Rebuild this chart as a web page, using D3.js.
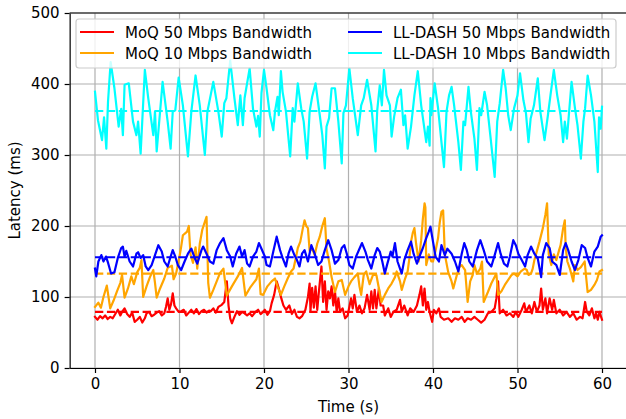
<!DOCTYPE html>
<html>
<head>
<meta charset="utf-8">
<script src="https://cdn.jsdelivr.net/npm/d3@7"></script>
<style>
  body { margin: 0; background: #fff; }
  svg text { font-family: "DejaVu Sans", sans-serif; }
</style>
</head>
<body>
<div id="chart"></div>
<script>
// values, [time (s), latency (ms)]
var moq50 = [[0,72],[0.3,68],[0.6,73],[0.9,70],[1.2,74],[1.5,69],[1.8,72],[2.1,70],[2.4,76],[2.7,82],[3.0,74],[3.2,79],[3.5,84],[3.8,76],[4.1,72],[4.4,78],[4.7,65],[5.0,68],[5.3,72],[5.6,64],[5.9,70],[6.1,77],[6.4,79],[6.7,73],[7.0,75],[7.3,78],[7.6,80],[7.9,74],[8.2,77],[8.4,86],[8.6,98],[8.8,82],[9.0,90],[9.2,105],[9.4,88],[9.6,84],[9.9,79],[10.2,80],[10.5,82],[10.8,74],[11.1,78],[11.4,82],[11.7,77],[12.0,83],[12.3,76],[12.6,80],[12.9,82],[13.2,78],[13.5,81],[13.7,80],[14.0,84],[14.3,78],[14.6,86],[15.0,89],[15.3,93],[15.6,122],[15.8,88],[16.0,70],[16.2,63],[16.5,72],[16.8,80],[17.1,75],[17.4,79],[17.7,77],[18.0,74],[18.3,77],[18.6,73],[19.0,79],[19.3,82],[19.6,76],[19.9,79],[20.1,82],[20.4,75],[20.7,80],[20.9,91],[21.2,103],[21.5,122],[21.8,110],[22.05,98],[22.3,88],[22.6,82],[23.0,88],[23.3,76],[23.6,82],[23.9,72],[24.2,70],[24.5,73],[24.9,82],[25.2,100],[25.4,119],[25.5,80],[25.7,113],[25.9,85],[26.1,115],[26.3,82],[26.5,108],[26.8,143],[27.0,93],[27.2,122],[27.4,82],[27.6,108],[27.8,98],[28.0,115],[28.2,88],[28.4,108],[28.6,79],[28.8,98],[29.0,79],[29.3,84],[29.6,70],[29.9,74],[30.3,98],[30.5,84],[30.7,103],[31.0,79],[31.3,88],[31.6,77],[31.9,84],[32.2,103],[32.5,82],[32.7,108],[32.9,84],[33.1,110],[33.3,84],[33.6,112],[33.8,88],[34.1,88],[34.3,74],[34.7,84],[35.0,72],[35.3,79],[35.7,82],[36.1,96],[36.3,79],[36.6,88],[37.0,74],[37.3,84],[37.7,79],[38.1,88],[38.4,103],[38.6,115],[38.8,88],[39.0,112],[39.2,82],[39.4,93],[39.6,79],[39.9,65],[40.1,82],[40.4,77],[40.7,84],[40.9,72],[41.3,68],[41.8,70],[42.2,65],[42.6,70],[43.0,68],[43.4,72],[43.75,65],[44.1,70],[44.5,68],[44.9,72],[45.3,68],[45.7,64],[46.1,68],[46.5,77],[46.9,79],[47.3,84],[47.5,98],[47.7,122],[47.9,77],[48.3,82],[48.7,74],[49.1,77],[49.5,72],[49.8,79],[50.1,72],[50.5,82],[50.8,91],[51.0,79],[51.4,88],[51.7,77],[52.0,93],[52.3,79],[52.6,88],[52.8,112],[53.0,82],[53.3,98],[53.5,77],[53.8,98],[54.1,82],[54.3,96],[54.6,77],[55.0,82],[55.4,74],[55.8,79],[56.2,72],[56.6,77],[57.0,68],[57.4,72],[57.7,70],[58.0,93],[58.2,79],[58.5,74],[58.8,84],[59.1,70],[59.3,77],[59.5,68],[59.7,79],[60,68]];

var moq10 = [[0,86],[0.4,92],[0.7,85],[1.0,100],[1.4,116],[1.6,100],[1.8,84],[2.2,95],[2.6,108],[3.0,120],[3.2,131],[3.5,99],[3.9,112],[4.3,129],[4.6,118],[5.0,135],[5.3,141],[5.5,152],[5.7,100],[6.1,115],[6.5,128],[6.9,138],[7.1,120],[7.3,99],[7.7,112],[8.2,126],[8.6,141],[9.1,144],[9.3,125],[9.6,133],[10.0,157],[10.2,171],[10.4,187],[10.7,190],[10.9,192],[11.1,200],[11.3,160],[11.6,148],[11.9,170],[12.1,140],[12.4,175],[12.7,195],[13.0,206],[13.2,213],[13.4,120],[13.6,99],[14.0,110],[14.4,122],[14.8,134],[15.2,140],[15.6,102],[16.2,115],[16.9,129],[17.4,141],[17.8,102],[18.4,114],[19.1,125],[19.4,140],[19.6,104],[19.9,103],[20.4,115],[20.9,122],[21.3,126],[21.6,115],[22.0,103],[22.4,115],[22.8,126],[23.2,136],[23.5,140],[23.8,157],[24.0,169],[24.3,178],[24.6,197],[24.8,208],[25.0,200],[25.2,197],[25.4,165],[25.7,168],[26.0,159],[26.3,175],[26.6,185],[26.9,200],[27.2,211],[27.4,168],[27.7,150],[28.0,128],[28.4,107],[28.8,122],[29.2,124],[29.6,103],[30.0,115],[30.3,122],[30.7,128],[31.1,133],[31.3,115],[31.5,103],[31.8,131],[32.1,136],[32.5,118],[32.9,131],[33.3,131],[33.6,112],[33.9,93],[34.3,103],[34.7,112],[35.1,119],[35.5,128],[35.7,136],[36.1,122],[36.3,110],[36.7,126],[37.0,136],[37.2,154],[37.4,178],[37.6,190],[37.8,197],[38.0,175],[38.3,150],[38.6,180],[38.8,210],[39.0,232],[39.1,226],[39.2,145],[39.5,160],[39.8,150],[40.0,150],[40.3,165],[40.6,183],[40.8,205],[41.0,220],[41.2,222],[41.4,160],[41.8,135],[42.2,122],[42.4,112],[42.8,130],[43.1,142],[43.4,145],[43.8,138],[44.1,93],[44.4,122],[44.7,131],[44.9,145],[45.2,133],[45.6,140],[45.8,150],[46.0,93],[46.5,107],[46.9,119],[47.2,126],[47.5,133],[47.7,103],[48.1,108],[48.5,117],[48.9,124],[49.3,131],[49.6,133],[50.0,129],[50.4,136],[50.85,140],[51.1,138],[51.3,131],[51.6,133],[51.8,140],[52.0,152],[52.3,165],[52.6,178],[53.0,197],[53.3,216],[53.5,232],[53.7,160],[54.0,145],[54.3,160],[54.6,152],[54.9,165],[55.1,173],[55.4,197],[55.6,208],[55.7,170],[55.9,150],[56.2,140],[56.4,131],[56.6,122],[56.8,145],[57.1,138],[57.5,142],[57.95,150],[58.1,131],[58.3,107],[58.7,110],[59.1,117],[59.4,124],[59.7,136],[60,138]];

var dash50 = [[0,140],[0.15,129],[0.4,150],[0.75,159],[1.0,150],[1.3,157],[1.55,148],[1.9,133],[2.3,135],[2.7,155],[3.1,169],[3.3,171],[3.5,157],[3.7,165],[4.1,150],[4.5,143],[4.9,161],[5.1,163],[5.4,155],[5.7,159],[6.0,143],[6.3,138],[6.7,145],[7.1,159],[7.5,173],[7.9,164],[8.2,150],[8.6,143],[8.9,155],[9.2,166],[9.5,157],[9.8,145],[10.2,138],[10.6,150],[11.0,161],[11.4,168],[11.8,155],[12.1,147],[12.6,166],[12.8,171],[13.2,161],[13.6,150],[14.0,147],[14.4,166],[14.8,176],[15.2,183],[15.6,166],[16.0,157],[16.3,143],[16.7,161],[17.1,171],[17.4,157],[17.7,166],[18.0,147],[18.3,143],[18.7,157],[19.1,164],[19.4,176],[19.7,168],[20.1,157],[20.3,145],[20.7,143],[21.1,164],[21.5,185],[21.9,166],[22.2,155],[22.6,143],[22.9,161],[23.2,171],[23.6,159],[23.9,152],[24.2,143],[24.5,161],[24.8,166],[25.2,150],[25.6,173],[26.0,161],[26.4,145],[26.8,150],[27.2,166],[27.6,180],[28.0,166],[28.4,147],[28.8,152],[29.2,169],[29.5,173],[29.8,161],[30.1,145],[30.5,140],[30.9,157],[31.3,168],[31.6,176],[32.0,164],[32.3,152],[32.7,140],[33.1,159],[33.4,169],[33.7,164],[34.0,150],[34.3,133],[34.6,147],[35.0,164],[35.2,157],[35.5,176],[35.8,150],[36.3,133],[36.6,152],[37.0,166],[37.4,178],[37.7,161],[38.1,147],[38.4,157],[38.8,169],[39.2,183],[39.5,192],[39.7,199],[40.0,178],[40.3,157],[40.7,150],[41.0,173],[41.4,159],[41.7,168],[42.2,161],[42.6,150],[43.0,136],[43.4,161],[43.7,176],[44.0,166],[44.3,150],[44.7,143],[45.2,166],[45.6,180],[46.0,166],[46.4,150],[46.9,143],[47.3,159],[47.7,176],[48.0,161],[48.4,147],[48.8,143],[49.1,157],[49.5,180],[49.8,173],[50.1,161],[50.5,152],[50.9,143],[51.2,159],[51.6,171],[52.0,161],[52.4,154],[52.8,128],[53.0,159],[53.4,176],[53.8,169],[54.1,150],[54.6,145],[55.0,131],[55.4,166],[55.7,176],[56.0,166],[56.4,150],[56.8,138],[57.2,152],[57.6,173],[58.0,169],[58.3,155],[58.7,143],[59.1,164],[59.5,171],[59.85,185],[60,187]];

var dash10 = [[0,389],[0.35,349],[0.83,321],[1.07,353],[1.34,309],[1.54,375],[1.85,431],[2.3,394],[2.8,340],[3.1,365],[3.3,328],[3.5,399],[4.0,401],[4.5,347],[4.9,328],[5.1,347],[5.4,302],[5.9,420],[6.3,380],[6.9,328],[7.1,361],[7.3,305],[8.0,403],[8.6,347],[8.95,309],[9.2,361],[9.5,363],[9.9,409],[10.4,370],[11.0,298],[11.4,361],[11.9,412],[12.4,370],[13.0,300],[13.3,361],[14.0,403],[14.6,361],[15.0,326],[15.3,373],[15.55,380],[16.0,433],[16.5,380],[16.9,342],[17.2,384],[17.5,342],[17.7,380],[18.3,422],[18.7,365],[19.1,340],[19.3,355],[19.5,326],[19.7,387],[20.0,420],[20.3,394],[20.7,356],[21.1,335],[21.3,361],[21.6,382],[21.75,356],[22.0,418],[22.2,389],[22.6,361],[23.1,298],[23.4,366],[23.6,347],[24.0,401],[24.4,366],[24.7,347],[25.1,295],[25.4,361],[25.7,382],[26.1,401],[26.6,356],[26.9,328],[27.2,281],[27.4,340],[27.7,352],[28.0,394],[28.4,394],[28.8,347],[29.2,288],[29.4,359],[29.7,370],[30.1,422],[30.5,380],[31.1,328],[31.5,370],[31.8,380],[32.2,406],[32.7,370],[33.2,305],[33.4,363],[33.7,398],[33.95,370],[34.2,420],[34.5,384],[34.9,370],[35.1,326],[35.4,354],[35.8,380],[36.2,392],[36.5,342],[36.7,356],[37.0,309],[37.4,340],[37.8,384],[38.2,418],[38.6,370],[39.2,318],[39.4,340],[39.6,313],[39.7,380],[39.8,356],[40.2,401],[40.6,366],[41.0,318],[41.3,283],[41.6,361],[41.9,384],[42.2,396],[42.5,370],[43.0,318],[43.3,279],[43.6,347],[43.8,342],[44.2,396],[44.5,359],[44.9,323],[45.2,279],[45.5,366],[45.7,356],[46.1,389],[46.4,370],[46.8,326],[47.3,269],[47.6,347],[47.9,373],[48.3,420],[48.6,394],[48.9,356],[49.2,335],[49.6,366],[50.0,384],[50.3,415],[50.7,377],[51.0,359],[51.3,318],[51.55,351],[51.95,370],[52.4,408],[52.7,361],[53.2,321],[53.6,356],[53.9,384],[54.3,420],[54.7,384],[55.1,356],[55.4,318],[55.6,347],[55.85,323],[56.4,403],[56.8,366],[57.1,342],[57.5,295],[57.8,347],[58.0,366],[58.3,412],[58.7,384],[59.1,347],[59.5,276],[59.65,353],[59.85,337],[60,368]];

// mean latency of each run (dashed lines)
var means = { moq50: 79, moq10: 133, dash50: 156, dash10: 362 };

var xTicks = [0, 10, 20, 30, 40, 50, 60];
var yTicks = [0, 100, 200, 300, 400, 500];

var series = [
  { key: "moq50", label: "MoQ 50 Mbps Bandwidth", color: "#ff0000", data: moq50 },
  { key: "moq10", label: "MoQ 10 Mbps Bandwidth", color: "#ffa500", data: moq10 },
  { key: "dash50", label: "LL-DASH 50 Mbps Bandwidth", color: "#0000ff", data: dash50 },
  { key: "dash10", label: "LL-DASH 10 Mbps Bandwidth", color: "#00ffff", data: dash10 }
];

var W = 626, H = 419;
var plotL = 69.65, plotR = 627.35, plotT = 13, plotB = 368;

var svg = d3.select("#chart").append("svg")
  .attr("width", W)
  .attr("height", H);

var x = d3.scaleLinear().domain([-3, 63]).range([plotL, plotR]);
var y = d3.scaleLinear().domain([0, 500]).range([plotB, plotT]);

svg.append("clipPath").attr("id", "clip")
  .append("rect")
  .attr("x", plotL).attr("y", plotT)
  .attr("width", plotR - plotL).attr("height", plotB - plotT);

// grid
var grid = svg.append("g").attr("stroke", "#b0b0b0").attr("stroke-width", 1.2);
grid.selectAll(".gx").data(xTicks).enter().append("line")
  .attr("x1", d => x(d)).attr("x2", d => x(d))
  .attr("y1", plotT).attr("y2", plotB);
grid.selectAll(".gy").data(yTicks).enter().append("line")
  .attr("x1", plotL).attr("x2", plotR)
  .attr("y1", d => y(d)).attr("y2", d => y(d));

var line = d3.line()
  .x(d => x(d[0]))
  .y(d => y(d[1]));

var plot = svg.append("g").attr("clip-path", "url(#clip)");

series.forEach(function(s) {
  plot.append("path")
    .datum(s.data)
    .attr("d", line)
    .attr("fill", "none")
    .attr("stroke", s.color)
    .attr("stroke-width", 2.2)
    .attr("stroke-linejoin", "round")
    .attr("stroke-linecap", "square");
  plot.append("line")
    .attr("x1", x(0)).attr("x2", x(60))
    .attr("y1", y(means[s.key])).attr("y2", y(means[s.key]))
    .attr("stroke", s.color)
    .attr("stroke-width", 2.2)
    .attr("stroke-dasharray", "8.3,3.6");
});

// axes
var xAxis = svg.append("g")
  .attr("transform", "translate(0," + plotB + ")")
  .call(d3.axisBottom(x).tickValues(xTicks).tickSize(5).tickPadding(5).tickSizeOuter(0));
var yAxis = svg.append("g")
  .attr("transform", "translate(" + plotL + ",0)")
  .call(d3.axisLeft(y).tickValues(yTicks).tickSize(5).tickPadding(5).tickSizeOuter(0));

[xAxis, yAxis].forEach(function(a) {
  a.select(".domain").attr("stroke", "#000").attr("stroke-width", 1.2);
  a.selectAll(".tick line").attr("stroke", "#000").attr("stroke-width", 1.2);
  a.selectAll(".tick text").attr("fill", "#000").style("font-size", "15px")
    .style("font-family", "DejaVu Sans");
});

// top spine
svg.append("line")
  .attr("x1", plotL).attr("x2", plotR)
  .attr("y1", plotT).attr("y2", plotT)
  .attr("stroke", "#000").attr("stroke-width", 1.2);

svg.append("text")
  .attr("x", (plotL + plotR) / 2)
  .attr("y", 412)
  .attr("text-anchor", "middle")
  .style("font-size", "15px")
  .text("Time (s)");

svg.append("text")
  .attr("transform", "translate(20," + (plotT + plotB) / 2 + ") rotate(-90)")
  .attr("text-anchor", "middle")
  .style("font-size", "15px")
  .text("Latency (ms)");

// legend, two columns
var legend = svg.append("g");
legend.append("rect")
  .attr("x", 76).attr("y", 19)
  .attr("width", 540).attr("height", 49)
  .attr("rx", 3)
  .attr("fill", "#fff").attr("fill-opacity", 0.8)
  .attr("stroke", "#cccccc").attr("stroke-width", 1.2);

var cols = [80, 348];
var rows = [32, 53];
series.forEach(function(s, i) {
  var cx = cols[Math.floor(i / 2)];
  var cy = rows[i % 2];
  legend.append("line")
    .attr("x1", cx).attr("x2", cx + 34)
    .attr("y1", cy).attr("y2", cy)
    .attr("stroke", s.color).attr("stroke-width", 2.2);
  legend.append("text")
    .attr("x", cx + 45).attr("y", cy + 5.5)
    .style("font-size", "15px")
    .attr("fill", "#000")
    .text(s.label);
});
</script>
</body>
</html>
